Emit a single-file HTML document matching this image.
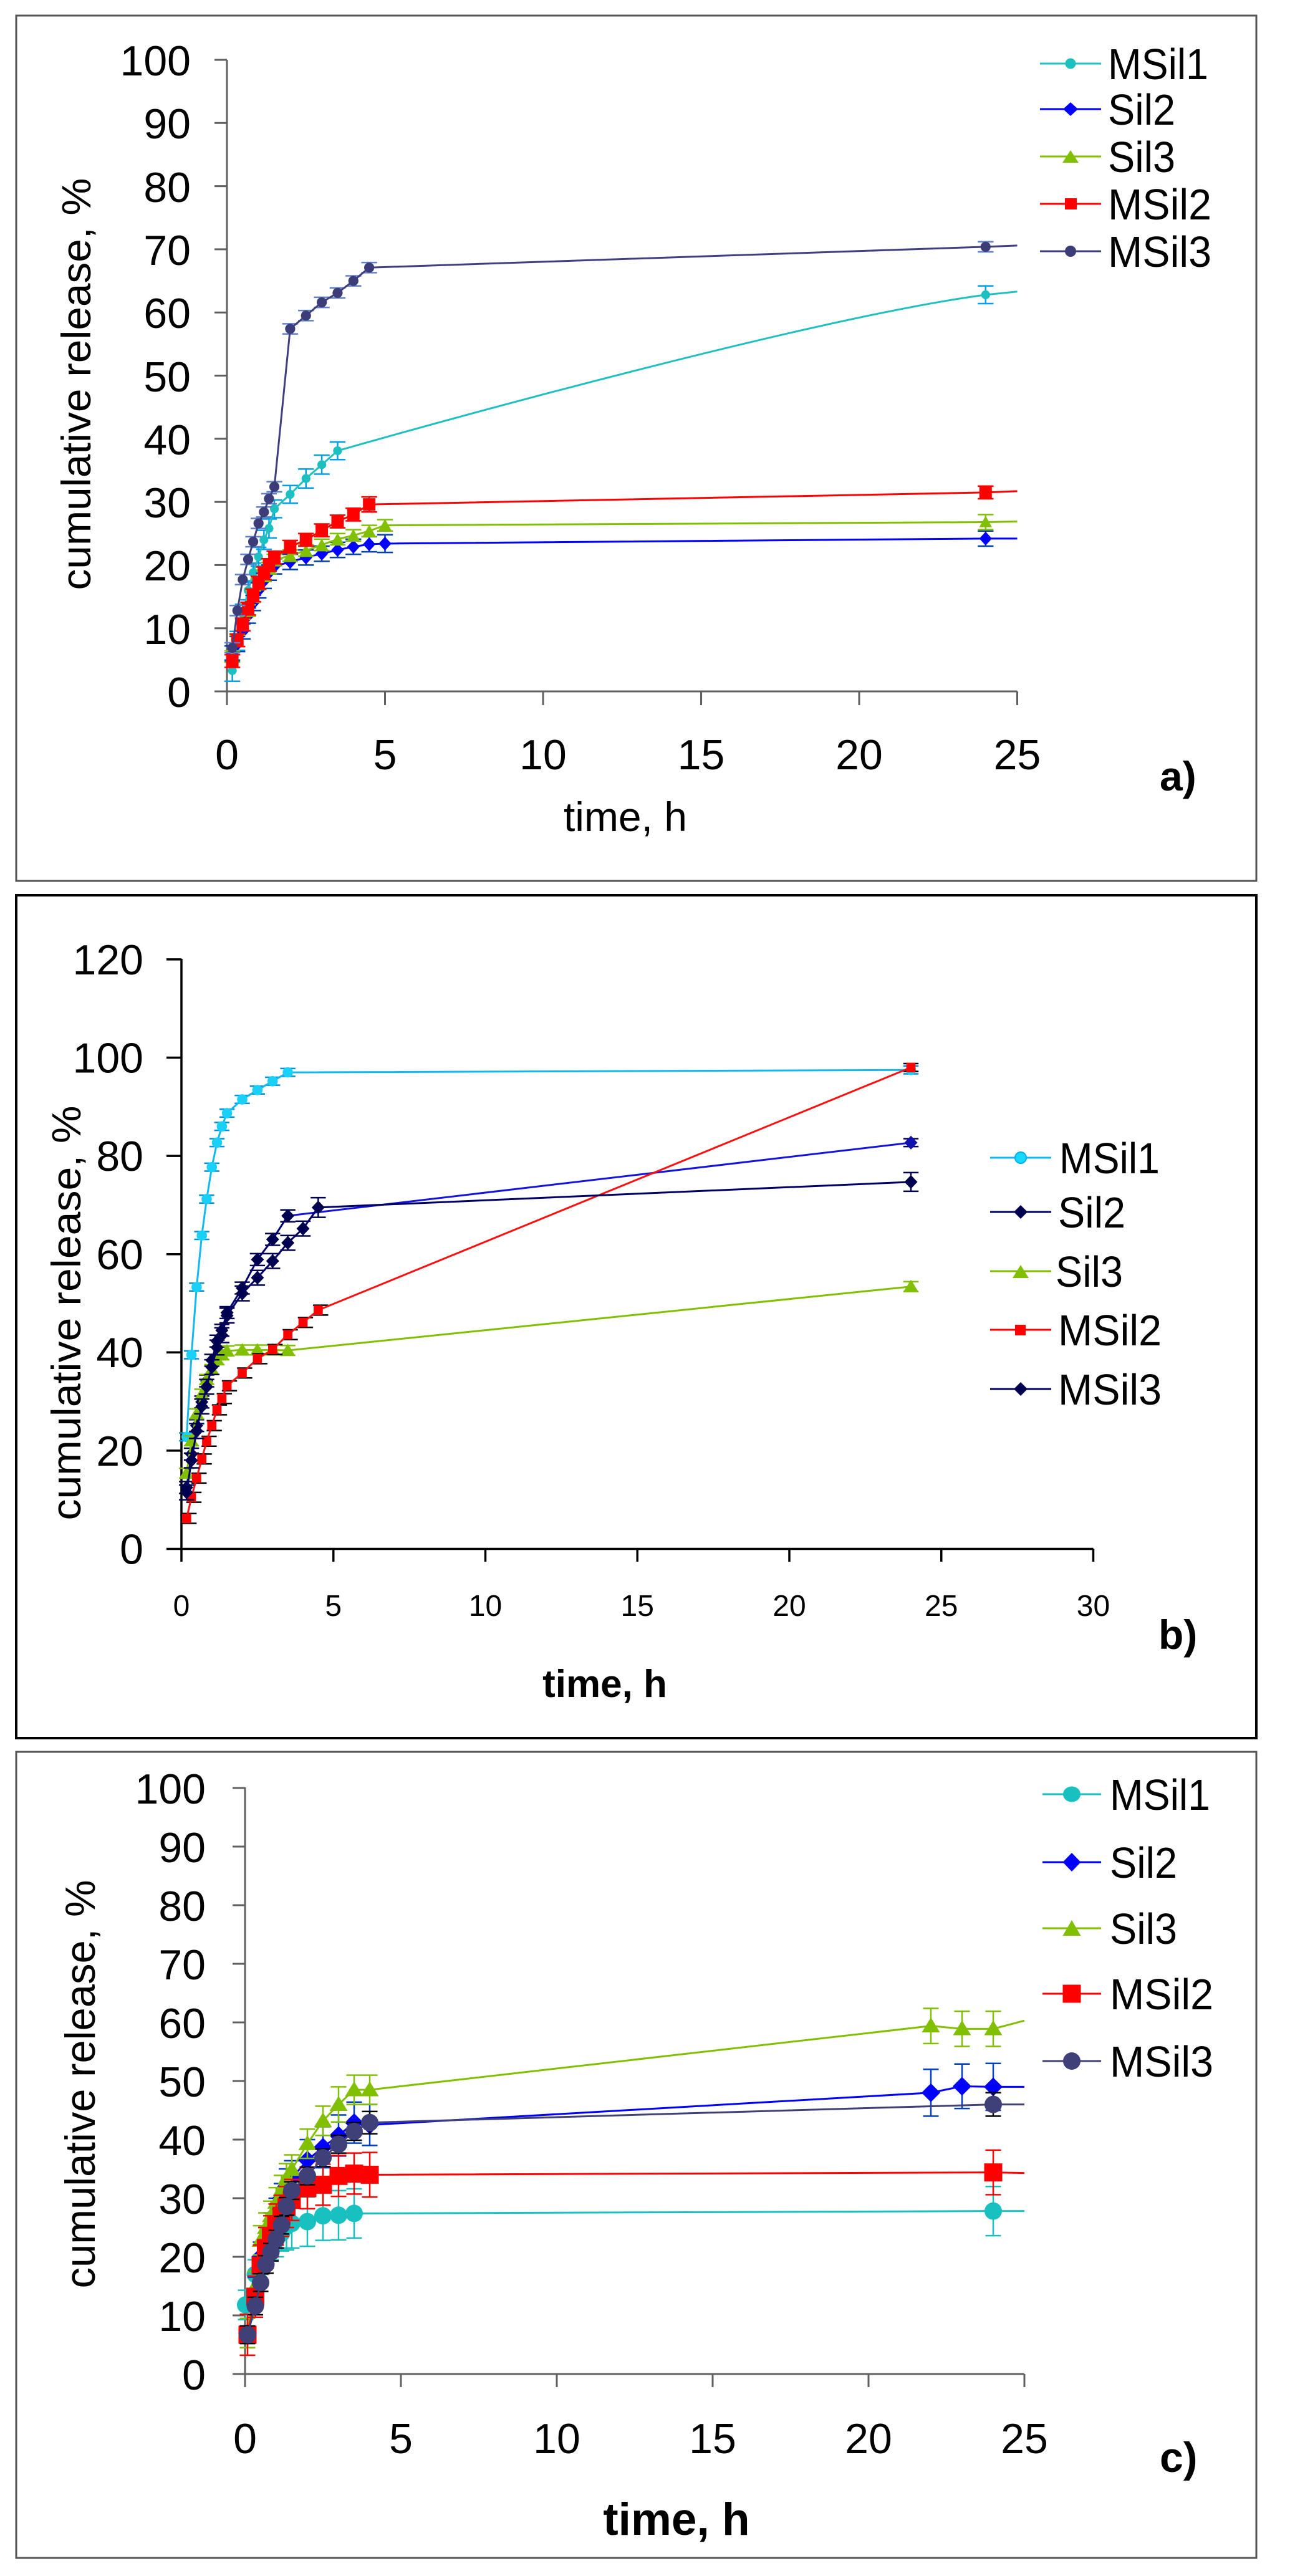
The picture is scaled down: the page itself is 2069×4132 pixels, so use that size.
<!DOCTYPE html>
<html>
<head>
<meta charset="utf-8">
<style>
html,body{margin:0;padding:0;background:#fff;}
svg{display:block;}
text{font-family:"Liberation Sans",Arial,sans-serif;fill:#000;}
</style>
</head>
<body>
<svg width="2069" height="4132" viewBox="0 0 2069 4132">
<defs>
<path id="e08" d="M0,-0.8V0.8M-0.25,-0.8H0.25M-0.25,0.8H0.25" fill="none" vector-effect="non-scaling-stroke"/>
<path id="e09" d="M0,-0.9V0.9M-0.25,-0.9H0.25M-0.25,0.9H0.25" fill="none" vector-effect="non-scaling-stroke"/>
<path id="e10" d="M0,-1V1M-0.25,-1H0.25M-0.25,1H0.25" fill="none" vector-effect="non-scaling-stroke"/>
<path id="e12" d="M0,-1.2V1.2M-0.25,-1.2H0.25M-0.25,1.2H0.25" fill="none" vector-effect="non-scaling-stroke"/>
<path id="e14" d="M0,-1.4V1.4M-0.25,-1.4H0.25M-0.25,1.4H0.25" fill="none" vector-effect="non-scaling-stroke"/>
<path id="e15" d="M0,-1.5V1.5M-0.25,-1.5H0.25M-0.25,1.5H0.25" fill="none" vector-effect="non-scaling-stroke"/>
<path id="e17" d="M0,-1.7V1.7M-0.25,-1.7H0.25M-0.25,1.7H0.25" fill="none" vector-effect="non-scaling-stroke"/>
<path id="e19" d="M0,-1.9V1.9M-0.25,-1.9H0.25M-0.25,1.9H0.25" fill="none" vector-effect="non-scaling-stroke"/>
<path id="e20" d="M0,-2V2M-0.25,-2H0.25M-0.25,2H0.25" fill="none" vector-effect="non-scaling-stroke"/>
<path id="e25" d="M0,-2.5V2.5M-0.25,-2.5H0.25M-0.25,2.5H0.25" fill="none" vector-effect="non-scaling-stroke"/>
<path id="e30" d="M0,-3V3M-0.25,-3H0.25M-0.25,3H0.25" fill="none" vector-effect="non-scaling-stroke"/>
<path id="e35" d="M0,-3.5V3.5M-0.25,-3.5H0.25M-0.25,3.5H0.25" fill="none" vector-effect="non-scaling-stroke"/>
<path id="e38" d="M0,-3.8V3.8M-0.25,-3.8H0.25M-0.25,3.8H0.25" fill="none" vector-effect="non-scaling-stroke"/>
<path id="e40" d="M0,-4V4M-0.25,-4H0.25M-0.25,4H0.25" fill="none" vector-effect="non-scaling-stroke"/>
<path id="e42" d="M0,-4.2V4.2M-0.25,-4.2H0.25M-0.25,4.2H0.25" fill="none" vector-effect="non-scaling-stroke"/>
<!-- panel a markers (data units: 50.7 px/h, 10.13 px/unit) -->
<rect id="aSq" x="-0.197" y="-0.987" width="0.394" height="1.974"/>
<polygon id="aDi" points="0,1.1 0.2,0 0,-1.1 -0.2,0"/>
<polygon id="aTr" points="0,1.0 0.2,-0.8 -0.2,-0.8"/>
<ellipse id="aC1" rx="0.14" ry="0.7"/>
<ellipse id="aC3" rx="0.16" ry="0.8"/>
<!-- panel b markers (48.75 px/h, 7.88 px/unit) -->
<ellipse id="bCi" rx="0.17" ry="1.05"/>
<polygon id="bDi" points="0,1.4 0.215,0 0,-1.4 -0.215,0"/>
<polygon id="bTr" points="0,1.4 0.25,-1.1 -0.25,-1.1"/>
<rect id="bSq" x="-0.15" y="-0.95" width="0.3" height="1.9"/>
<!-- panel c markers (50 px/h, 9.4 px/unit) -->
<ellipse id="cCi" rx="0.28" ry="1.49"/>
<polygon id="cDi" points="0,1.6 0.3,0 0,-1.6 -0.3,0"/>
<polygon id="cTr" points="0,1.45 0.29,-1.1 -0.29,-1.1"/>
<rect id="cSq" x="-0.29" y="-1.54" width="0.58" height="3.08"/>
</defs>

<rect x="0" y="0" width="2069" height="4132" fill="#fff"/>

<!-- ================= PANEL A ================= -->
<rect x="26" y="25" width="1989" height="1388" fill="none" stroke="#555" stroke-width="3"/>
<g stroke="#606060" stroke-width="3" fill="none">
<line x1="364" y1="96" x2="364" y2="1110"/>
<line x1="362.5" y1="1109" x2="1631.5" y2="1109"/>
<path d="M344,1109H364M344,1007.7H364M344,906.4H364M344,805.1H364M344,703.8H364M344,602.5H364M344,501.2H364M344,399.9H364M344,298.6H364M344,197.3H364M344,96H364"/>
<path d="M364,1109V1131M617.5,1109V1131M871,1109V1131M1124.5,1109V1131M1378,1109V1131M1631.5,1109V1131"/>
</g>
<g font-size="68" text-anchor="end">
<text x="306" y="1134">0</text>
<text x="306" y="1033">10</text>
<text x="306" y="931">20</text>
<text x="306" y="830">30</text>
<text x="306" y="729">40</text>
<text x="306" y="628">50</text>
<text x="306" y="526">60</text>
<text x="306" y="425">70</text>
<text x="306" y="324">80</text>
<text x="306" y="222">90</text>
<text x="306" y="121">100</text>
</g>
<g font-size="68" text-anchor="middle">
<text x="364" y="1234">0</text>
<text x="617.5" y="1234">5</text>
<text x="871" y="1234">10</text>
<text x="1124.5" y="1234">15</text>
<text x="1378" y="1234">20</text>
<text x="1631.5" y="1234">25</text>
</g>
<text x="1003" y="1333" font-size="66" text-anchor="middle">time, h</text>
<text x="1860" y="1268" font-size="66" font-weight="bold">a)</text>
<text transform="translate(145,616) rotate(-90)" font-size="66" text-anchor="middle" textLength="661" lengthAdjust="spacingAndGlyphs">cumulative release, %</text>

<g transform="translate(364,1109) scale(50.7,-10.13)">
<!-- MSil1 -->
<g stroke="#00a0e8" stroke-width="2.5">
<use href="#e17" x="0.17" y="3.3"/><use href="#e15" x="0.33" y="8"/><use href="#e15" x="0.5" y="12.3"/><use href="#e15" x="0.67" y="16"/><use href="#e15" x="0.83" y="18.8"/><use href="#e15" x="1" y="21.3"/><use href="#e15" x="1.17" y="24"/><use href="#e15" x="1.33" y="25.8"/><use href="#e14" x="1.5" y="28.9"/><use href="#e14" x="2" y="31.2"/><use href="#e15" x="2.5" y="33.7"/><use href="#e15" x="3" y="35.9"/><use href="#e14" x="3.5" y="38.1"/><use href="#e14" x="24" y="62.8"/>
</g>
<path d="M0.17,3.3L0.33,8L0.5,12.3L0.67,16L0.83,18.8L1,21.3L1.17,24L1.33,25.8L1.5,28.9L2,31.2L2.5,33.7L3,35.9L3.5,38.1C8,44.5 19,59.5 24,62.8L25,63.3" fill="none" stroke="#20c0c0" stroke-width="3" vector-effect="non-scaling-stroke"/>
<g fill="#1cc0c0">
<use href="#aC1" x="0.17" y="3.3"/><use href="#aC1" x="0.33" y="8"/><use href="#aC1" x="0.5" y="12.3"/><use href="#aC1" x="0.67" y="16"/><use href="#aC1" x="0.83" y="18.8"/><use href="#aC1" x="1" y="21.3"/><use href="#aC1" x="1.17" y="24"/><use href="#aC1" x="1.33" y="25.8"/><use href="#aC1" x="1.5" y="28.9"/><use href="#aC1" x="2" y="31.2"/><use href="#aC1" x="2.5" y="33.7"/><use href="#aC1" x="3" y="35.9"/><use href="#aC1" x="3.5" y="38.1"/><use href="#aC1" x="24" y="62.8"/>
</g>
<!-- Sil2 -->
<g stroke="#0040b0" stroke-width="2.5">
<use href="#e12" x="0.17" y="6"/><use href="#e12" x="0.33" y="7.5"/><use href="#e12" x="0.5" y="9.5"/><use href="#e12" x="0.67" y="12"/><use href="#e12" x="0.83" y="14"/><use href="#e12" x="1" y="16"/><use href="#e12" x="1.17" y="17.5"/><use href="#e12" x="1.33" y="18.8"/><use href="#e12" x="1.5" y="19.8"/><use href="#e12" x="2" y="20.5"/><use href="#e12" x="2.5" y="21.2"/><use href="#e12" x="3" y="21.8"/><use href="#e12" x="3.5" y="22.4"/><use href="#e12" x="4" y="22.9"/><use href="#e12" x="4.5" y="23.3"/><use href="#e14" x="5" y="23.4"/><use href="#e12" x="24" y="24.2"/>
</g>
<polyline points="0.17,6 0.33,7.5 0.5,9.5 0.67,12 0.83,14 1,16 1.17,17.5 1.33,18.8 1.5,19.8 2,20.5 2.5,21.2 3,21.8 3.5,22.4 4,22.9 4.5,23.3 5,23.4 24,24.2 25,24.2" fill="none" stroke="#0000ff" stroke-width="3" vector-effect="non-scaling-stroke"/>
<g fill="#0000ff">
<use href="#aDi" x="0.17" y="6"/><use href="#aDi" x="0.33" y="7.5"/><use href="#aDi" x="0.5" y="9.5"/><use href="#aDi" x="0.67" y="12"/><use href="#aDi" x="0.83" y="14"/><use href="#aDi" x="1" y="16"/><use href="#aDi" x="1.17" y="17.5"/><use href="#aDi" x="1.33" y="18.8"/><use href="#aDi" x="1.5" y="19.8"/><use href="#aDi" x="2" y="20.5"/><use href="#aDi" x="2.5" y="21.2"/><use href="#aDi" x="3" y="21.8"/><use href="#aDi" x="3.5" y="22.4"/><use href="#aDi" x="4" y="22.9"/><use href="#aDi" x="4.5" y="23.3"/><use href="#aDi" x="5" y="23.4"/><use href="#aDi" x="24" y="24.2"/>
</g>
<!-- Sil3 -->
<g stroke="#80c000" stroke-width="2.5">
<use href="#e09" x="0.17" y="5.5"/><use href="#e09" x="0.33" y="8"/><use href="#e09" x="0.5" y="10.5"/><use href="#e09" x="0.67" y="12.8"/><use href="#e09" x="0.83" y="15"/><use href="#e09" x="1" y="17"/><use href="#e09" x="1.17" y="18.3"/><use href="#e09" x="1.33" y="19.5"/><use href="#e09" x="1.5" y="20.8"/><use href="#e09" x="2" y="21.5"/><use href="#e09" x="2.5" y="22.3"/><use href="#e09" x="3" y="23.2"/><use href="#e09" x="3.5" y="24.1"/><use href="#e09" x="4" y="24.7"/><use href="#e09" x="4.5" y="25.4"/><use href="#e09" x="5" y="26.3"/><use href="#e12" x="24" y="26.8"/>
</g>
<polyline points="0.17,5.5 0.33,8 0.5,10.5 0.67,12.8 0.83,15 1,17 1.17,18.3 1.33,19.5 1.5,20.8 2,21.5 2.5,22.3 3,23.2 3.5,24.1 4,24.7 4.5,25.4 5,26.3 24,26.8 25,26.9" fill="none" stroke="#80c000" stroke-width="3" vector-effect="non-scaling-stroke"/>
<g fill="#80c000">
<use href="#aTr" x="0.17" y="5.5"/><use href="#aTr" x="0.33" y="8"/><use href="#aTr" x="0.5" y="10.5"/><use href="#aTr" x="0.67" y="12.8"/><use href="#aTr" x="0.83" y="15"/><use href="#aTr" x="1" y="17"/><use href="#aTr" x="1.17" y="18.3"/><use href="#aTr" x="1.33" y="19.5"/><use href="#aTr" x="1.5" y="20.8"/><use href="#aTr" x="2" y="21.5"/><use href="#aTr" x="2.5" y="22.3"/><use href="#aTr" x="3" y="23.2"/><use href="#aTr" x="3.5" y="24.1"/><use href="#aTr" x="4" y="24.7"/><use href="#aTr" x="4.5" y="25.4"/><use href="#aTr" x="5" y="26.3"/><use href="#aTr" x="24" y="26.8"/>
</g>
<!-- MSil2 -->
<g stroke="#ff0000" stroke-width="2.5">
<use href="#e10" x="0.17" y="4.8"/><use href="#e10" x="0.33" y="8.1"/><use href="#e10" x="0.5" y="10.6"/><use href="#e10" x="0.67" y="13.1"/><use href="#e10" x="0.83" y="15.2"/><use href="#e10" x="1" y="17.2"/><use href="#e10" x="1.17" y="18.7"/><use href="#e10" x="1.33" y="20"/><use href="#e10" x="1.5" y="21.2"/><use href="#e10" x="2" y="22.9"/><use href="#e10" x="2.5" y="24"/><use href="#e10" x="3" y="25.5"/><use href="#e10" x="3.5" y="26.9"/><use href="#e10" x="4" y="28"/><use href="#e12" x="4.5" y="29.6"/><use href="#e10" x="24" y="31.5"/>
</g>
<polyline points="0.17,4.8 0.33,8.1 0.5,10.6 0.67,13.1 0.83,15.2 1,17.2 1.17,18.7 1.33,20 1.5,21.2 2,22.9 2.5,24 3,25.5 3.5,26.9 4,28 4.5,29.6 24,31.5 25,31.7" fill="none" stroke="#ff0000" stroke-width="3" vector-effect="non-scaling-stroke"/>
<g fill="#ff0000">
<use href="#aSq" x="0.17" y="4.8"/><use href="#aSq" x="0.33" y="8.1"/><use href="#aSq" x="0.5" y="10.6"/><use href="#aSq" x="0.67" y="13.1"/><use href="#aSq" x="0.83" y="15.2"/><use href="#aSq" x="1" y="17.2"/><use href="#aSq" x="1.17" y="18.7"/><use href="#aSq" x="1.33" y="20"/><use href="#aSq" x="1.5" y="21.2"/><use href="#aSq" x="2" y="22.9"/><use href="#aSq" x="2.5" y="24"/><use href="#aSq" x="3" y="25.5"/><use href="#aSq" x="3.5" y="26.9"/><use href="#aSq" x="4" y="28"/><use href="#aSq" x="4.5" y="29.6"/><use href="#aSq" x="24" y="31.5"/>
</g>
<!-- MSil3 -->
<g stroke="#6080c8" stroke-width="2.5">
<use href="#e08" x="0.17" y="6.9"/><use href="#e08" x="0.33" y="12.8"/><use href="#e08" x="0.5" y="17.7"/><use href="#e08" x="0.67" y="20.9"/><use href="#e08" x="0.83" y="23.7"/><use href="#e08" x="1" y="26.6"/><use href="#e08" x="1.17" y="28.4"/><use href="#e08" x="1.33" y="30.5"/><use href="#e08" x="1.5" y="32.4"/><use href="#e08" x="2" y="57.4"/><use href="#e08" x="2.5" y="59.5"/><use href="#e08" x="3" y="61.6"/><use href="#e08" x="3.5" y="63.1"/><use href="#e08" x="4" y="65"/><use href="#e08" x="4.5" y="67.1"/><use href="#e08" x="24" y="70.4"/>
</g>
<polyline points="0.17,6.9 0.33,12.8 0.5,17.7 0.67,20.9 0.83,23.7 1,26.6 1.17,28.4 1.33,30.5 1.5,32.4 2,57.4 2.5,59.5 3,61.6 3.5,63.1 4,65 4.5,67.1 24,70.4 25,70.6" fill="none" stroke="#404080" stroke-width="3" vector-effect="non-scaling-stroke"/>
<g fill="#3c3c78">
<use href="#aC3" x="0.17" y="6.9"/><use href="#aC3" x="0.33" y="12.8"/><use href="#aC3" x="0.5" y="17.7"/><use href="#aC3" x="0.67" y="20.9"/><use href="#aC3" x="0.83" y="23.7"/><use href="#aC3" x="1" y="26.6"/><use href="#aC3" x="1.17" y="28.4"/><use href="#aC3" x="1.33" y="30.5"/><use href="#aC3" x="1.5" y="32.4"/><use href="#aC3" x="2" y="57.4"/><use href="#aC3" x="2.5" y="59.5"/><use href="#aC3" x="3" y="61.6"/><use href="#aC3" x="3.5" y="63.1"/><use href="#aC3" x="4" y="65"/><use href="#aC3" x="4.5" y="67.1"/><use href="#aC3" x="24" y="70.4"/>
</g>
</g>

<!-- legend a -->
<g stroke-width="3">
<line x1="1668" y1="102" x2="1766" y2="102" stroke="#20c0c0"/>
<line x1="1668" y1="175" x2="1766" y2="175" stroke="#0000ff"/>
<line x1="1668" y1="251" x2="1766" y2="251" stroke="#80c000"/>
<line x1="1668" y1="327" x2="1766" y2="327" stroke="#ff0000"/>
<line x1="1668" y1="403" x2="1766" y2="403" stroke="#404080"/>
</g>
<circle cx="1717" cy="102" r="8.5" fill="#1cc0c0"/>
<polygon points="1717,164 1729,175 1717,186 1705,175" fill="#0000ff"/>
<polygon points="1717,241 1730,261 1704,261" fill="#80c000"/>
<rect x="1708" y="318" width="19" height="18" fill="#ff0000"/>
<circle cx="1717" cy="403" r="9" fill="#3c3c78"/>
<g font-size="70">
<text x="1777" y="127" textLength="161" lengthAdjust="spacingAndGlyphs">MSil1</text>
<text x="1777" y="200" textLength="108" lengthAdjust="spacingAndGlyphs">Sil2</text>
<text x="1777" y="276" textLength="108" lengthAdjust="spacingAndGlyphs">Sil3</text>
<text x="1777" y="352" textLength="166" lengthAdjust="spacingAndGlyphs">MSil2</text>
<text x="1777" y="428" textLength="166" lengthAdjust="spacingAndGlyphs">MSil3</text>
</g>

<!-- ================= PANEL B ================= -->
<rect x="26" y="1436" width="1989" height="1352" fill="none" stroke="#000" stroke-width="4"/>
<g stroke="#000" stroke-width="3.5" fill="none">
<line x1="291" y1="1538" x2="291" y2="2486"/>
<line x1="289" y1="2484.5" x2="1753.5" y2="2484.5"/>
<path d="M267,2484.5H291M267,2326.9H291M267,2169.3H291M267,2011.7H291M267,1854.1H291M267,1696.5H291M267,1538.9H291"/>
<path d="M291,2484.5V2505M534.75,2484.5V2505M778.5,2484.5V2505M1022.25,2484.5V2505M1266,2484.5V2505M1509.75,2484.5V2505M1753.5,2484.5V2505"/>
</g>
<g font-size="68" text-anchor="end">
<text x="230" y="2508.5">0</text>
<text x="230" y="2351">20</text>
<text x="230" y="2193">40</text>
<text x="230" y="2036">60</text>
<text x="230" y="1878">80</text>
<text x="230" y="1720.5">100</text>
<text x="230" y="1563">120</text>
</g>
<g font-size="48" text-anchor="middle">
<text x="291" y="2592">0</text>
<text x="534.75" y="2592">5</text>
<text x="778.5" y="2592">10</text>
<text x="1022.25" y="2592">15</text>
<text x="1266" y="2592">20</text>
<text x="1509.75" y="2592">25</text>
<text x="1753.5" y="2592">30</text>
</g>
<text x="970" y="2722" font-size="62" font-weight="bold" text-anchor="middle">time, h</text>
<text x="1858" y="2645" font-size="66" font-weight="bold">b)</text>
<text transform="translate(129,2106) rotate(-90)" font-size="66" text-anchor="middle" textLength="665" lengthAdjust="spacingAndGlyphs">cumulative release, %</text>

<g transform="translate(291,2484.5) scale(48.75,-7.88)">
<!-- MSil1 -->
<g stroke="#0090d8" stroke-width="2.5">
<use href="#e08" x="0.17" y="22.8"/><use href="#e08" x="0.33" y="39.5"/><use href="#e08" x="0.5" y="53.3"/><use href="#e08" x="0.67" y="63.8"/><use href="#e08" x="0.83" y="71.2"/><use href="#e08" x="1" y="77.7"/><use href="#e08" x="1.17" y="82.7"/><use href="#e08" x="1.33" y="86"/><use href="#e08" x="1.5" y="88.7"/><use href="#e08" x="2" y="91.5"/><use href="#e08" x="2.5" y="93.4"/><use href="#e08" x="3" y="95.2"/><use href="#e08" x="3.5" y="97"/><use href="#e08" x="24" y="97.5"/>
</g>
<polyline points="0.17,22.8 0.33,39.5 0.5,53.3 0.67,63.8 0.83,71.2 1,77.7 1.17,82.7 1.33,86 1.5,88.7 2,91.5 2.5,93.4 3,95.2 3.5,97 24,97.5" fill="none" stroke="#10b8f0" stroke-width="3" vector-effect="non-scaling-stroke"/>
<g fill="#18d0f8">
<use href="#bCi" x="0.17" y="22.8"/><use href="#bCi" x="0.33" y="39.5"/><use href="#bCi" x="0.5" y="53.3"/><use href="#bCi" x="0.67" y="63.8"/><use href="#bCi" x="0.83" y="71.2"/><use href="#bCi" x="1" y="77.7"/><use href="#bCi" x="1.17" y="82.7"/><use href="#bCi" x="1.33" y="86"/><use href="#bCi" x="1.5" y="88.7"/><use href="#bCi" x="2" y="91.5"/><use href="#bCi" x="2.5" y="93.4"/><use href="#bCi" x="3" y="95.2"/><use href="#bCi" x="3.5" y="97"/><use href="#bCi" x="24" y="97.5"/>
</g>
<!-- Sil2 (upper navy, blue long segment) -->
<g stroke="#000050" stroke-width="2.5">
<use href="#e12" x="0.17" y="12.5"/><use href="#e12" x="0.33" y="19.3"/><use href="#e12" x="0.5" y="25.1"/><use href="#e12" x="0.67" y="29.9"/><use href="#e12" x="0.83" y="34.2"/><use href="#e12" x="1" y="38.4"/><use href="#e12" x="1.17" y="42.3"/><use href="#e12" x="1.33" y="44.5"/><use href="#e12" x="1.5" y="48.1"/><use href="#e12" x="2" y="53.1"/><use href="#e12" x="2.5" y="58.9"/><use href="#e12" x="3" y="63"/><use href="#e12" x="3.5" y="67.8"/><use href="#e08" x="24" y="82.7"/>
</g>
<polyline points="0.17,12.5 0.33,19.3 0.5,25.1 0.67,29.9 0.83,34.2 1,38.4 1.17,42.3 1.33,44.5 1.5,48.1 2,53.1 2.5,58.9 3,63 3.5,67.8" fill="none" stroke="#000070" stroke-width="3" vector-effect="non-scaling-stroke"/>
<polyline points="3.5,67.8 24,82.7" fill="none" stroke="#1414e0" stroke-width="3" vector-effect="non-scaling-stroke"/>
<g fill="#000050">
<use href="#bDi" x="0.17" y="12.5"/><use href="#bDi" x="0.33" y="19.3"/><use href="#bDi" x="0.5" y="25.1"/><use href="#bDi" x="0.67" y="29.9"/><use href="#bDi" x="0.83" y="34.2"/><use href="#bDi" x="1" y="38.4"/><use href="#bDi" x="1.17" y="42.3"/><use href="#bDi" x="1.33" y="44.5"/><use href="#bDi" x="1.5" y="48.1"/><use href="#bDi" x="2" y="53.1"/><use href="#bDi" x="2.5" y="58.9"/><use href="#bDi" x="3" y="63"/><use href="#bDi" x="3.5" y="67.8"/>
</g>
<use href="#bDi" x="24" y="82.7" fill="#1010b0"/>
<!-- Sil3 -->
<g stroke="#80c000" stroke-width="2.5">
<use href="#e10" x="0.17" y="15.4"/><use href="#e10" x="0.33" y="22"/><use href="#e10" x="0.5" y="27.5"/><use href="#e10" x="0.67" y="31.5"/><use href="#e10" x="0.83" y="34.5"/><use href="#e10" x="1" y="36.5"/><use href="#e10" x="1.17" y="38.5"/><use href="#e10" x="1.33" y="39.5"/><use href="#e10" x="1.5" y="40.3"/><use href="#e10" x="2" y="40.5"/><use href="#e10" x="2.5" y="40.5"/><use href="#e10" x="3" y="40.5"/><use href="#e10" x="3.5" y="40.4"/><use href="#e10" x="24" y="53.4"/>
</g>
<polyline points="0.17,15.4 0.33,22 0.5,27.5 0.67,31.5 0.83,34.5 1,36.5 1.17,38.5 1.33,39.5 1.5,40.3 2,40.5 2.5,40.5 3,40.5 3.5,40.4 24,53.4" fill="none" stroke="#80c000" stroke-width="3" vector-effect="non-scaling-stroke"/>
<g fill="#80c000">
<use href="#bTr" x="0.17" y="15.4"/><use href="#bTr" x="0.33" y="22"/><use href="#bTr" x="0.5" y="27.5"/><use href="#bTr" x="0.67" y="31.5"/><use href="#bTr" x="0.83" y="34.5"/><use href="#bTr" x="1" y="36.5"/><use href="#bTr" x="1.17" y="38.5"/><use href="#bTr" x="1.33" y="39.5"/><use href="#bTr" x="1.5" y="40.3"/><use href="#bTr" x="2" y="40.5"/><use href="#bTr" x="2.5" y="40.5"/><use href="#bTr" x="3" y="40.5"/><use href="#bTr" x="3.5" y="40.4"/><use href="#bTr" x="24" y="53.4"/>
</g>
<!-- MSil2 -->
<g stroke="#000" stroke-width="2.5">
<use href="#e10" x="0.25" y="6.2"/><use href="#e10" x="0.41" y="10.5"/><use href="#e10" x="0.58" y="14.4"/><use href="#e10" x="0.75" y="18.3"/><use href="#e10" x="0.91" y="21.9"/><use href="#e10" x="1.08" y="25.1"/><use href="#e10" x="1.25" y="28.3"/><use href="#e10" x="1.41" y="30.6"/><use href="#e10" x="1.58" y="33.2"/><use href="#e10" x="2.08" y="35.8"/><use href="#e10" x="2.58" y="38.7"/><use href="#e10" x="3.08" y="40.6"/><use href="#e10" x="3.58" y="43.6"/><use href="#e10" x="4.08" y="46.1"/><use href="#e10" x="4.58" y="48.6"/><use href="#e08" x="24" y="98"/>
</g>
<polyline points="0.17,6.2 0.33,10.5 0.5,14.4 0.67,18.3 0.83,21.9 1,25.1 1.17,28.3 1.33,30.6 1.5,33.2 2,35.8 2.5,38.7 3,40.6 3.5,43.6 4,46.1 4.5,48.6 24,98" fill="none" stroke="#ff1010" stroke-width="3" vector-effect="non-scaling-stroke"/>
<g fill="#ff0000">
<use href="#bSq" x="0.17" y="6.2"/><use href="#bSq" x="0.33" y="10.5"/><use href="#bSq" x="0.5" y="14.4"/><use href="#bSq" x="0.67" y="18.3"/><use href="#bSq" x="0.83" y="21.9"/><use href="#bSq" x="1" y="25.1"/><use href="#bSq" x="1.17" y="28.3"/><use href="#bSq" x="1.33" y="30.6"/><use href="#bSq" x="1.5" y="33.2"/><use href="#bSq" x="2" y="35.8"/><use href="#bSq" x="2.5" y="38.7"/><use href="#bSq" x="3" y="40.6"/><use href="#bSq" x="3.5" y="43.6"/><use href="#bSq" x="4" y="46.1"/><use href="#bSq" x="4.5" y="48.6"/><use href="#bSq" x="24" y="98"/>
</g>
<!-- MSil3 (lower navy) -->
<g stroke="#000050" stroke-width="2.5">
<use href="#e15" x="0.17" y="11.5"/><use href="#e15" x="0.33" y="18"/><use href="#e15" x="0.5" y="24"/><use href="#e15" x="0.67" y="29"/><use href="#e15" x="0.83" y="33"/><use href="#e15" x="1" y="37"/><use href="#e15" x="1.17" y="41"/><use href="#e15" x="1.33" y="43.5"/><use href="#e15" x="1.5" y="47.5"/><use href="#e15" x="2" y="52"/><use href="#e15" x="2.5" y="55.2"/><use href="#e15" x="3" y="58.6"/><use href="#e15" x="3.5" y="62.3"/><use href="#e15" x="4" y="65.2"/><use href="#e20" x="4.5" y="69.5"/><use href="#e19" x="24" y="74.7"/>
</g>
<polyline points="0.17,11.5 0.33,18 0.5,24 0.67,29 0.83,33 1,37 1.17,41 1.33,43.5 1.5,47.5 2,52 2.5,55.2 3,58.6 3.5,62.3 4,65.2 4.5,69.5 24,74.7" fill="none" stroke="#000066" stroke-width="3" vector-effect="non-scaling-stroke"/>
<g fill="#000050">
<use href="#bDi" x="0.17" y="11.5"/><use href="#bDi" x="0.33" y="18"/><use href="#bDi" x="0.5" y="24"/><use href="#bDi" x="0.67" y="29"/><use href="#bDi" x="0.83" y="33"/><use href="#bDi" x="1" y="37"/><use href="#bDi" x="1.17" y="41"/><use href="#bDi" x="1.33" y="43.5"/><use href="#bDi" x="1.5" y="47.5"/><use href="#bDi" x="2" y="52"/><use href="#bDi" x="2.5" y="55.2"/><use href="#bDi" x="3" y="58.6"/><use href="#bDi" x="3.5" y="62.3"/><use href="#bDi" x="4" y="65.2"/><use href="#bDi" x="4.5" y="69.5"/><use href="#bDi" x="24" y="74.7"/>
</g>
</g>

<!-- legend b -->
<g stroke-width="3">
<line x1="1588" y1="1857" x2="1686" y2="1857" stroke="#10b8f0"/>
<line x1="1588" y1="1944" x2="1686" y2="1944" stroke="#000060"/>
<line x1="1588" y1="2039" x2="1686" y2="2039" stroke="#80c000"/>
<line x1="1588" y1="2133" x2="1686" y2="2133" stroke="#ff0000"/>
<line x1="1588" y1="2228" x2="1686" y2="2228" stroke="#000060"/>
</g>
<circle cx="1637" cy="1857" r="9" fill="#18d8ff" stroke="#00b0f0" stroke-width="2"/>
<polygon points="1637,1933 1648,1944 1637,1955 1626,1944" fill="#000050"/>
<polygon points="1637,2029 1650,2050 1624,2050" fill="#80c000"/>
<rect x="1628" y="2125" width="17" height="17" fill="#ff0000"/>
<polygon points="1637,2217 1648,2228 1637,2239 1626,2228" fill="#000050"/>
<g font-size="70">
<text x="1699" y="1882" textLength="161" lengthAdjust="spacingAndGlyphs">MSil1</text>
<text x="1697" y="1969" textLength="108" lengthAdjust="spacingAndGlyphs">Sil2</text>
<text x="1693" y="2064" textLength="108" lengthAdjust="spacingAndGlyphs">Sil3</text>
<text x="1697" y="2158" textLength="166" lengthAdjust="spacingAndGlyphs">MSil2</text>
<text x="1697" y="2253" textLength="166" lengthAdjust="spacingAndGlyphs">MSil3</text>
</g>

<!-- ================= PANEL C ================= -->
<rect x="26" y="2810" width="1989" height="1293" fill="none" stroke="#555" stroke-width="3"/>
<g stroke="#606060" stroke-width="3" fill="none">
<line x1="393" y1="2867" x2="393" y2="3809"/>
<line x1="391.5" y1="3808" x2="1643" y2="3808"/>
<path d="M373,3808H393M373,3714H393M373,3620H393M373,3526H393M373,3432H393M373,3338H393M373,3244H393M373,3150H393M373,3056H393M373,2962H393M373,2868H393"/>
<path d="M393,3808V3829M643,3808V3829M893,3808V3829M1143,3808V3829M1393,3808V3829M1643,3808V3829"/>
</g>
<g font-size="68" text-anchor="end">
<text x="330" y="3833">0</text>
<text x="330" y="3739">10</text>
<text x="330" y="3645">20</text>
<text x="330" y="3551">30</text>
<text x="330" y="3457">40</text>
<text x="330" y="3363">50</text>
<text x="330" y="3269">60</text>
<text x="330" y="3175">70</text>
<text x="330" y="3081">80</text>
<text x="330" y="2987">90</text>
<text x="330" y="2893">100</text>
</g>
<g font-size="68" text-anchor="middle">
<text x="393" y="3935">0</text>
<text x="643" y="3935">5</text>
<text x="893" y="3935">10</text>
<text x="1143" y="3935">15</text>
<text x="1393" y="3935">20</text>
<text x="1643" y="3935">25</text>
</g>
<text x="1085" y="4066" font-size="73" font-weight="bold" text-anchor="middle">time, h</text>
<text x="1860" y="3965" font-size="68" font-weight="bold">c)</text>
<text transform="translate(152,3343) rotate(-90)" font-size="68" text-anchor="middle" textLength="655" lengthAdjust="spacingAndGlyphs">cumulative release, %</text>

<g transform="translate(393,3808) scale(50,-9.4)">
<!-- MSil1 -->
<g stroke="#18c0c0" stroke-width="2.5">
<use href="#e25" x="0.02" y="11.8"/><use href="#e25" x="0.33" y="17"/><use href="#e25" x="0.5" y="19.5"/><use href="#e25" x="0.67" y="21"/><use href="#e25" x="0.83" y="22"/><use href="#e30" x="1" y="23"/><use href="#e30" x="1.17" y="24"/><use href="#e40" x="1.33" y="25.2"/><use href="#e42" x="1.5" y="25.7"/><use href="#e42" x="2" y="26"/><use href="#e42" x="2.5" y="27"/><use href="#e42" x="3" y="27.1"/><use href="#e42" x="3.5" y="27.4"/><use href="#e42" x="24" y="27.8"/>
</g>
<polyline points="0.02,11.8 0.33,17 0.5,19.5 0.67,21 0.83,22 1,23 1.17,24 1.33,25.2 1.5,25.7 2,26 2.5,27 3,27.1 3.5,27.4 24,27.8 25,27.8" fill="none" stroke="#18c0c0" stroke-width="3" vector-effect="non-scaling-stroke"/>
<g fill="#18c0c0">
<use href="#cCi" x="0.02" y="11.8"/><use href="#cCi" x="0.33" y="17"/><use href="#cCi" x="0.5" y="19.5"/><use href="#cCi" x="0.67" y="21"/><use href="#cCi" x="0.83" y="22"/><use href="#cCi" x="1" y="23"/><use href="#cCi" x="1.17" y="24"/><use href="#cCi" x="1.33" y="25.2"/><use href="#cCi" x="1.5" y="25.7"/><use href="#cCi" x="2" y="26"/><use href="#cCi" x="2.5" y="27"/><use href="#cCi" x="3" y="27.1"/><use href="#cCi" x="3.5" y="27.4"/><use href="#cCi" x="24" y="27.8"/>
</g>
<!-- Sil2 -->
<g stroke="#0040c0" stroke-width="2.5">
<use href="#e25" x="0.08" y="7"/><use href="#e25" x="0.33" y="14"/><use href="#e25" x="0.5" y="20"/><use href="#e25" x="0.67" y="22.5"/><use href="#e25" x="0.83" y="25"/><use href="#e25" x="1" y="27.5"/><use href="#e25" x="1.17" y="30"/><use href="#e30" x="1.33" y="32"/><use href="#e30" x="1.5" y="33.4"/><use href="#e35" x="2" y="36.5"/><use href="#e35" x="2.5" y="38.7"/><use href="#e35" x="3" y="40.7"/><use href="#e35" x="3.5" y="42.9"/><use href="#e35" x="4" y="42.5"/><use href="#e40" x="22" y="48"/><use href="#e38" x="23" y="49.1"/><use href="#e40" x="24" y="49"/>
</g>
<polyline points="0.08,7 0.33,14 0.5,20 0.67,22.5 0.83,25 1,27.5 1.17,30 1.33,32 1.5,33.4 2,36.5 2.5,38.7 3,40.7 3.5,42.9 4,42.5 22,48 23,49.1 24,49 25,49" fill="none" stroke="#0000ff" stroke-width="3" vector-effect="non-scaling-stroke"/>
<g fill="#0000ff">
<use href="#cDi" x="0.08" y="7"/><use href="#cDi" x="0.33" y="14"/><use href="#cDi" x="0.5" y="20"/><use href="#cDi" x="0.67" y="22.5"/><use href="#cDi" x="0.83" y="25"/><use href="#cDi" x="1" y="27.5"/><use href="#cDi" x="1.17" y="30"/><use href="#cDi" x="1.33" y="32"/><use href="#cDi" x="1.5" y="33.4"/><use href="#cDi" x="2" y="36.5"/><use href="#cDi" x="2.5" y="38.7"/><use href="#cDi" x="3" y="40.7"/><use href="#cDi" x="3.5" y="42.9"/><use href="#cDi" x="4" y="42.5"/><use href="#cDi" x="22" y="48"/><use href="#cDi" x="23" y="49.1"/><use href="#cDi" x="24" y="49"/>
</g>
<!-- Sil3 -->
<g stroke="#80c000" stroke-width="2.5">
<use href="#e25" x="0.08" y="7"/><use href="#e25" x="0.33" y="15"/><use href="#e25" x="0.5" y="22.8"/><use href="#e25" x="0.67" y="25"/><use href="#e25" x="0.83" y="27"/><use href="#e25" x="1" y="29.3"/><use href="#e25" x="1.17" y="31.4"/><use href="#e25" x="1.33" y="33.4"/><use href="#e25" x="1.5" y="34.9"/><use href="#e25" x="2" y="39.3"/><use href="#e25" x="2.5" y="43.2"/><use href="#e30" x="3" y="46"/><use href="#e25" x="3.5" y="48.5"/><use href="#e25" x="4" y="48.5"/><use href="#e30" x="22" y="59.4"/><use href="#e30" x="23" y="58.9"/><use href="#e30" x="24" y="58.9"/>
</g>
<polyline points="0.08,7 0.33,15 0.5,22.8 0.67,25 0.83,27 1,29.3 1.17,31.4 1.33,33.4 1.5,34.9 2,39.3 2.5,43.2 3,46 3.5,48.5 4,48.5 22,59.4 23,58.9 24,58.9 25,60.3" fill="none" stroke="#80c000" stroke-width="3" vector-effect="non-scaling-stroke"/>
<g fill="#80c000">
<use href="#cTr" x="0.08" y="7"/><use href="#cTr" x="0.33" y="15"/><use href="#cTr" x="0.5" y="22.8"/><use href="#cTr" x="0.67" y="25"/><use href="#cTr" x="0.83" y="27"/><use href="#cTr" x="1" y="29.3"/><use href="#cTr" x="1.17" y="31.4"/><use href="#cTr" x="1.33" y="33.4"/><use href="#cTr" x="1.5" y="34.9"/><use href="#cTr" x="2" y="39.3"/><use href="#cTr" x="2.5" y="43.2"/><use href="#cTr" x="3" y="46"/><use href="#cTr" x="3.5" y="48.5"/><use href="#cTr" x="4" y="48.5"/><use href="#cTr" x="22" y="59.4"/><use href="#cTr" x="23" y="58.9"/><use href="#cTr" x="24" y="58.9"/>
</g>
<!-- MSil2 -->
<g stroke="#ff0000" stroke-width="2.5">
<use href="#e35" x="0.08" y="6.7"/><use href="#e35" x="0.33" y="13.2"/><use href="#e35" x="0.5" y="18.5"/><use href="#e35" x="0.67" y="21.5"/><use href="#e35" x="0.83" y="23.5"/><use href="#e35" x="1" y="25.5"/><use href="#e35" x="1.17" y="27"/><use href="#e35" x="1.33" y="28.5"/><use href="#e35" x="1.5" y="29.7"/><use href="#e35" x="2" y="31.7"/><use href="#e35" x="2.5" y="32.3"/><use href="#e35" x="3" y="33.8"/><use href="#e35" x="3.5" y="34.2"/><use href="#e38" x="4" y="34"/><use href="#e38" x="24" y="34.4"/>
</g>
<polyline points="0.08,6.7 0.33,13.2 0.5,18.5 0.67,21.5 0.83,23.5 1,25.5 1.17,27 1.33,28.5 1.5,29.7 2,31.7 2.5,32.3 3,33.8 3.5,34.2 4,34 24,34.4 25,34.3" fill="none" stroke="#ff0000" stroke-width="3" vector-effect="non-scaling-stroke"/>
<g fill="#ff0000">
<use href="#cSq" x="0.08" y="6.7"/><use href="#cSq" x="0.33" y="13.2"/><use href="#cSq" x="0.5" y="18.5"/><use href="#cSq" x="0.67" y="21.5"/><use href="#cSq" x="0.83" y="23.5"/><use href="#cSq" x="1" y="25.5"/><use href="#cSq" x="1.17" y="27"/><use href="#cSq" x="1.33" y="28.5"/><use href="#cSq" x="1.5" y="29.7"/><use href="#cSq" x="2" y="31.7"/><use href="#cSq" x="2.5" y="32.3"/><use href="#cSq" x="3" y="33.8"/><use href="#cSq" x="3.5" y="34.2"/><use href="#cSq" x="4" y="34"/><use href="#cSq" x="24" y="34.4"/>
</g>
<!-- MSil3 -->
<g stroke="#000" stroke-width="2.5">
<use href="#e15" x="0.08" y="6.7"/><use href="#e15" x="0.33" y="11.6"/><use href="#e15" x="0.5" y="15.6"/><use href="#e15" x="0.67" y="18.7"/><use href="#e15" x="0.83" y="20.8"/><use href="#e15" x="1" y="23"/><use href="#e15" x="1.17" y="25.4"/><use href="#e15" x="1.33" y="28.6"/><use href="#e15" x="1.5" y="31.3"/><use href="#e15" x="2" y="33.8"/><use href="#e15" x="2.5" y="36.9"/><use href="#e15" x="3" y="39.2"/><use href="#e15" x="3.5" y="41.4"/><use href="#e19" x="4" y="42.9"/><use href="#e20" x="24" y="46"/>
</g>
<polyline points="0.08,6.7 0.33,11.6 0.5,15.6 0.67,18.7 0.83,20.8 1,23 1.17,25.4 1.33,28.6 1.5,31.3 2,33.8 2.5,36.9 3,39.2 3.5,41.4 4,42.9 24,46 25,46" fill="none" stroke="#404078" stroke-width="3" vector-effect="non-scaling-stroke"/>
<g fill="#404078">
<use href="#cCi" x="0.08" y="6.7"/><use href="#cCi" x="0.33" y="11.6"/><use href="#cCi" x="0.5" y="15.6"/><use href="#cCi" x="0.67" y="18.7"/><use href="#cCi" x="0.83" y="20.8"/><use href="#cCi" x="1" y="23"/><use href="#cCi" x="1.17" y="25.4"/><use href="#cCi" x="1.33" y="28.6"/><use href="#cCi" x="1.5" y="31.3"/><use href="#cCi" x="2" y="33.8"/><use href="#cCi" x="2.5" y="36.9"/><use href="#cCi" x="3" y="39.2"/><use href="#cCi" x="3.5" y="41.4"/><use href="#cCi" x="4" y="42.9"/><use href="#cCi" x="24" y="46"/>
</g>
</g>

<!-- legend c -->
<g stroke-width="3">
<line x1="1672" y1="2878" x2="1766" y2="2878" stroke="#18c0c0"/>
<line x1="1672" y1="2987" x2="1766" y2="2987" stroke="#0000ff"/>
<line x1="1672" y1="3093" x2="1766" y2="3093" stroke="#80c000"/>
<line x1="1672" y1="3198" x2="1766" y2="3198" stroke="#ff0000"/>
<line x1="1672" y1="3306" x2="1766" y2="3306" stroke="#404078"/>
</g>
<ellipse cx="1719" cy="2878" rx="14" ry="12.5" fill="#18c0c0"/>
<polygon points="1719,2972 1733.5,2987 1719,3002 1704.5,2987" fill="#0000ff"/>
<polygon points="1719,3080 1733.5,3105 1704.5,3105" fill="#80c000"/>
<rect x="1704.5" y="3183.5" width="29" height="29" fill="#ff0000"/>
<circle cx="1719" cy="3306" r="14" fill="#404078"/>
<g font-size="70">
<text x="1780" y="2903" textLength="161" lengthAdjust="spacingAndGlyphs">MSil1</text>
<text x="1780" y="3012" textLength="108" lengthAdjust="spacingAndGlyphs">Sil2</text>
<text x="1780" y="3118" textLength="108" lengthAdjust="spacingAndGlyphs">Sil3</text>
<text x="1780" y="3223" textLength="166" lengthAdjust="spacingAndGlyphs">MSil2</text>
<text x="1780" y="3331" textLength="166" lengthAdjust="spacingAndGlyphs">MSil3</text>
</g>
</svg>
</body>
</html>
